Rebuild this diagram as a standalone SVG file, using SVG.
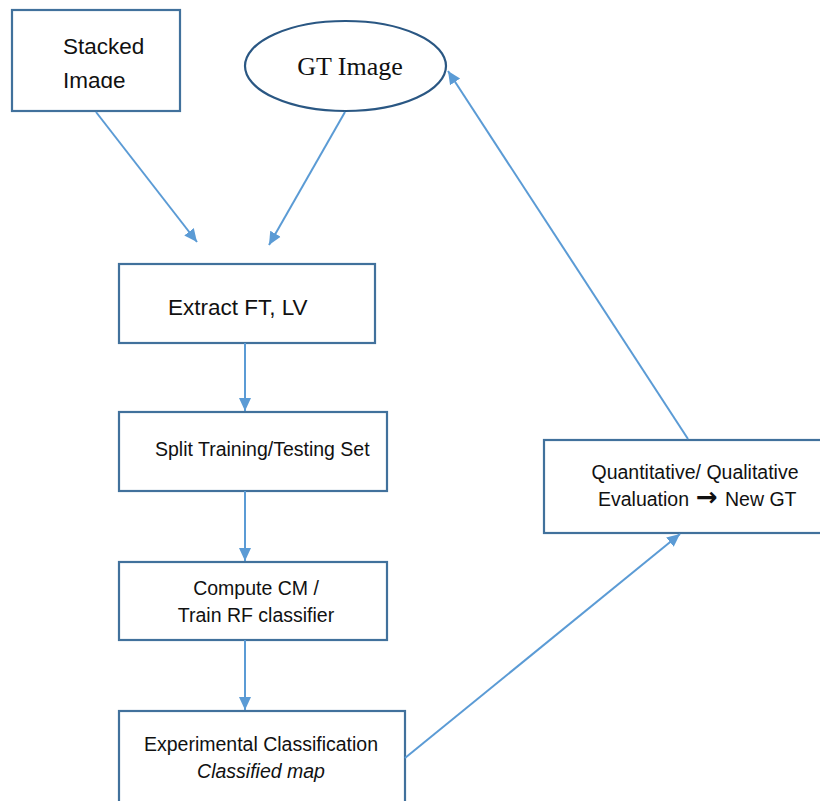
<svg xmlns="http://www.w3.org/2000/svg" width="820" height="801" viewBox="0 0 820 801">
<style>
.box{fill:#fff;stroke:#41719C;stroke-width:2.2}
.ell{fill:#fff;stroke:#2A5783;stroke-width:2.2}
.t{font-family:"Liberation Sans",Arial,sans-serif;fill:#111}
.big{font-size:22.5px}
.sm{font-size:19.5px}
.serif{font-family:"Liberation Serif","Times New Roman",serif;font-size:26px;fill:#111}
.c{text-anchor:middle}
.conn line{stroke:#5B9BD5;stroke-width:2;marker-end:url(#ah)}
</style>
<defs>
<marker id="ah" markerUnits="userSpaceOnUse" markerWidth="14" markerHeight="14" refX="13" refY="6" orient="auto" viewBox="0 0 14 12">
<path d="M0,0 L13,6 L0,12 Z" fill="#5B9BD5"/>
</marker>
<clipPath id="clipStack"><rect x="12" y="10" width="170" height="78"/></clipPath>
</defs>
<g id="stacked">
<rect class="box" x="12" y="10" width="168" height="101"/>
<g clip-path="url(#clipStack)">
<text class="t big" x="63" y="54">Stacked</text>
<text class="t big" x="63" y="88">Image</text>
</g>
</g>
<g id="gt">
<ellipse class="ell" cx="345.5" cy="66" rx="100.5" ry="45"/>
<text class="serif c" x="350" y="75">GT Image</text>
</g>
<g id="extract">
<rect class="box" x="119" y="264" width="256" height="79"/>
<text class="t big" x="168" y="315">Extract FT, LV</text>
</g>
<g id="split">
<rect class="box" x="119" y="412" width="268" height="79"/>
<text class="t sm" x="155" y="456">Split Training/Testing Set</text>
</g>
<g id="compute">
<rect class="box" x="119" y="562" width="268" height="78"/>
<text class="t sm c" x="256" y="595">Compute CM /</text>
<text class="t sm c" x="256" y="622">Train RF classifier</text>
</g>
<g id="experimental">
<rect class="box" x="119" y="711" width="286" height="100"/>
<text class="t sm c" x="261" y="751">Experimental Classification</text>
<text class="t sm c" x="261" y="778" font-style="italic">Classified map</text>
</g>
<g id="evaluation">
<rect class="box" x="544" y="440" width="290" height="93"/>
<text class="t sm c" x="695" y="479">Quantitative/ Qualitative</text>
<text class="t sm" x="598" y="506">Evaluation <tspan x="696" font-family="'DejaVu Sans',sans-serif" font-weight="bold" font-size="26px">→</tspan><tspan x="725">New GT</tspan></text>
</g>
<g class="conn" id="connectors">
<line x1="96" y1="112" x2="197" y2="242"/>
<line x1="345" y1="112" x2="269" y2="245"/>
<line x1="245" y1="343" x2="245" y2="411"/>
<line x1="245" y1="491" x2="245" y2="561"/>
<line x1="245" y1="640" x2="245" y2="710"/>
<line x1="405" y1="758" x2="680" y2="534"/>
<line x1="688" y1="439" x2="448" y2="71"/>
</g>
</svg>
